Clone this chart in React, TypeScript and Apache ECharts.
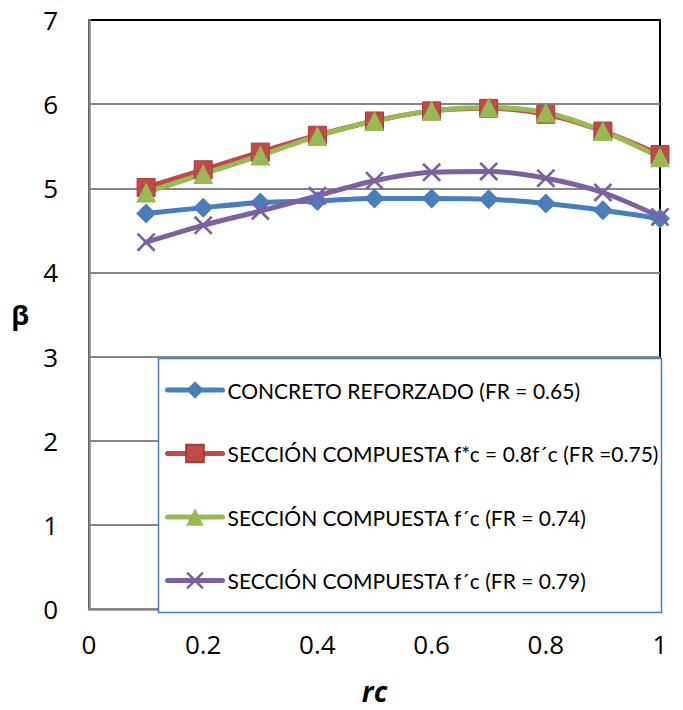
import React, { useEffect, useRef } from "react";
import * as echarts from "echarts";

// rc values along the horizontal axis
const rcValues = [0.1, 0.2, 0.3, 0.4, 0.5, 0.6, 0.7, 0.8, 0.9, 1.0];

// Reliability index β for each configuration
const concretoReforzado = [4.70, 4.77, 4.83, 4.85, 4.88, 4.88, 4.87, 4.82, 4.74, 4.64];
const seccionF08 = [5.01, 5.22, 5.43, 5.63, 5.80, 5.92, 5.95, 5.88, 5.68, 5.40];
const seccionFc074 = [4.95, 5.17, 5.39, 5.62, 5.80, 5.92, 5.96, 5.90, 5.68, 5.37];
const seccionFc079 = [4.36, 4.56, 4.73, 4.91, 5.09, 5.19, 5.20, 5.12, 4.95, 4.66];

const seriesNames = [
  "CONCRETO REFORZADO (FR = 0.65)",
  "SECCIÓN COMPUESTA f*c = 0.8f´c (FR =0.75)",
  "SECCIÓN COMPUESTA f´c (FR = 0.74)",
  "SECCIÓN COMPUESTA f´c (FR = 0.79)",
];

const crossSymbol =
  "path://M0,1 L1,0 L10,9 L9,10 Z M9,0 L10,1 L1,10 L0,9 Z";

const AXIS_FONT = "'Open Sans', sans-serif";
const LEGEND_FONT = "Lato, 'Open Sans', sans-serif";

export default function App() {
  const ref = useRef<HTMLDivElement>(null);

  useEffect(() => {
    if (!ref.current) return;
    const chart = echarts.init(ref.current, undefined, { renderer: "svg" });

    const pair = (vals: number[]) => rcValues.map((x, i) => [x, vals[i]]);

    const mkSeries = (
      name: string,
      vals: number[],
      color: string,
      symbol: string,
      symbolSize: number,
      border?: string
    ) => ({
      name,
      type: "line",
      data: pair(vals),
      smooth: 0.3,
      symbol,
      symbolSize,
      lineStyle: { color, width: 5, cap: "round" },
      itemStyle: { color, borderColor: border ?? color, borderWidth: border ? 1 : 0 },
      z: 2,
    });

    chart.setOption({
      animation: false,
      backgroundColor: "#ffffff",
      textStyle: { fontFamily: AXIS_FONT },
      grid: {
        left: 89,
        top: 20,
        width: 571,
        height: 591,
        show: true,
        borderColor: "#000000",
        borderWidth: 2,
        backgroundColor: "transparent",
      },
      xAxis: {
        type: "value",
        min: 0,
        max: 1,
        interval: 0.2,
        name: "rc",
        nameLocation: "middle",
        nameGap: 68,
        nameTextStyle: {
          fontSize: 28,
          fontWeight: "bold",
          fontStyle: "italic",
          color: "#000",
          fontFamily: AXIS_FONT,
        },
        axisLine: { show: true, lineStyle: { color: "#868686", width: 2.5 } },
        axisTick: { show: false },
        splitLine: { show: false },
        axisLabel: {
          fontSize: 26,
          color: "#000",
          margin: 22,
          fontFamily: AXIS_FONT,
          formatter: (v: number) => String(Math.round(v * 10) / 10),
        },
      },
      yAxis: {
        type: "value",
        min: 0,
        max: 7,
        interval: 1,
        name: "β",
        nameLocation: "middle",
        nameGap: 60,
        nameRotate: 0,
        nameTextStyle: {
          fontSize: 27,
          fontWeight: "bold",
          color: "#000",
          fontFamily: AXIS_FONT,
        },
        axisLine: { show: true, lineStyle: { color: "#868686", width: 2.5 } },
        axisTick: { show: false },
        splitLine: {
          show: true,
          lineStyle: {
            color: ["#868686", "#868686", "#868686", "#868686", "#868686", "#868686", "#868686", "#000000"],
            width: 2,
          },
        },
        axisLabel: { fontSize: 26, color: "#000", margin: 31, fontFamily: AXIS_FONT },
      },
      legend: {
        orient: "vertical",
        left: 165,
        top: 377,
        padding: 0,
        itemWidth: 55,
        itemHeight: 22,
        itemGap: 37.5,
        lineStyle: { width: 5, cap: "round" },
        textStyle: { fontSize: 21, color: "#000", lineHeight: 26, fontFamily: LEGEND_FONT },
        data: seriesNames,
        z: 5,
      },
      graphic: [
        {
          type: "rect",
          z: 3,
          shape: { x: 158.5, y: 358.5, width: 503, height: 254 },
          style: { fill: "#ffffff", stroke: "#4a7ebb", lineWidth: 1.5 },
        },
      ],
      series: [
        mkSeries(seriesNames[0], concretoReforzado, "#4a7ebb", "diamond", 20),
        mkSeries(seriesNames[1], seccionF08, "#be4b48", "rect", 18, "#a63c3a"),
        mkSeries(seriesNames[2], seccionFc074, "#98b954", "triangle", 20),
        mkSeries(seriesNames[3], seccionFc079, "#7d60a0", crossSymbol, 19),
      ],
    });

    return () => chart.dispose();
  }, []);

  return (
    <div
      ref={ref}
      style={{ position: "absolute", left: 0, top: 0, width: 683, height: 710 }}
    />
  );
}
